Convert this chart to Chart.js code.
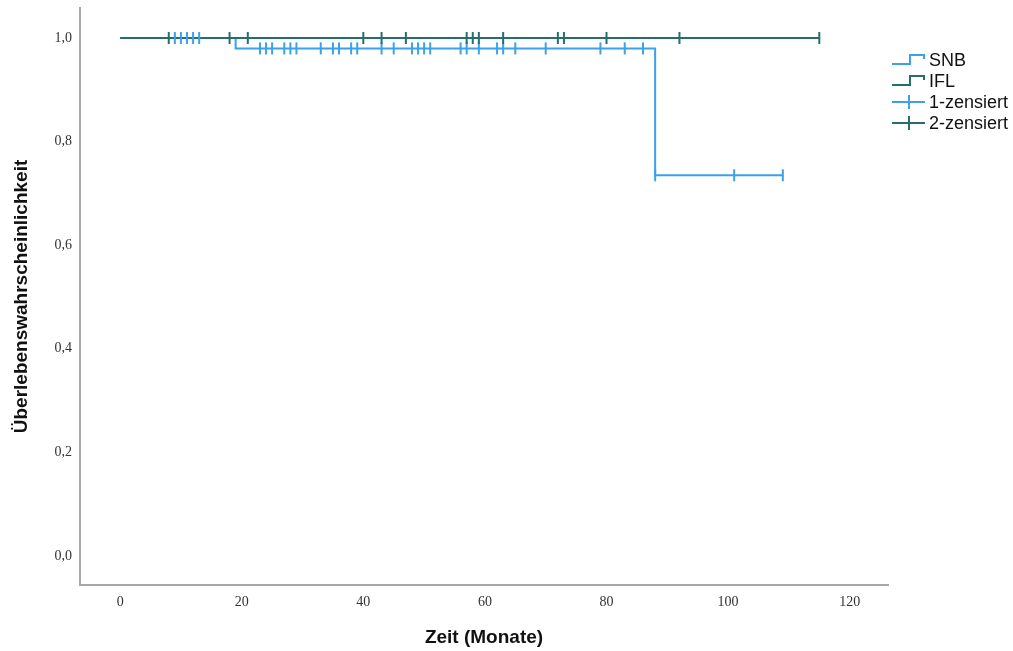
<!DOCTYPE html>
<html>
<head>
<meta charset="utf-8">
<script src="https://cdn.jsdelivr.net/npm/chart.js@4.4.0/dist/chart.umd.min.js"></script>
<style>
  html, body { margin: 0; padding: 0; background: #fff; }
  #wrap { width: 1013px; height: 651px; }
</style>
</head>
<body>
<div id="wrap"><canvas id="kmChart"></canvas></div>
<script>
// Kaplan-Meier steps (time in months, survival)
const snbTimes = [0, 19, 88, 109];
const snbSurv = [1.0, 0.98, 0.735, 0.735];
const iflTimes = [0, 115];
const iflSurv = [1.0, 1.0];

// censored observations (months)
const snbCensored = [9, 10, 11, 12, 13, 23, 24, 25, 27, 28, 29, 33, 35, 36, 38, 39, 43, 45, 48, 49, 50, 51,
    56, 57, 59, 62, 63, 65, 70, 79, 83, 86, 88, 101, 109];
const iflCensored = [8, 18, 21, 40, 43, 47, 57, 58, 59, 63, 72, 73, 80, 92, 115];

const xTicks = [0, 20, 40, 60, 80, 100, 120];
const yTicks = [0, 0.2, 0.4, 0.6, 0.8, 1.0];
const legendLabels = ['SNB', 'IFL', '1-zensiert', '2-zensiert'];

const blue = '#3ba1e8';
const green = '#246e6b';

// survival value at time t (last step at or before t)
function survAt(times, surv, t) {
    let s = surv[0];
    for (let i = 0; i < times.length; i++) {
        if (times[i] <= t) s = surv[i];
    }
    return s;
}

const toPts = (xs, ys) => xs.map((x, i) => ({ x: x, y: ys[i] }));
const censorPts = (list, times, surv) => list.map(t => ({ x: t, y: survAt(times, surv, t) }));

// draws the legend on the right side (step glyph / censor glyph)
const kmLegend = {
    id: 'kmLegend',
    afterDraw(chart) {
        const ctx = chart.ctx;
        const colors = [blue, green, blue, green];
        const x0 = 892, x1 = 925, tx = 929;
        ctx.save();
        ctx.font = '18px "Liberation Sans", Arial, sans-serif';
        ctx.textBaseline = 'middle';
        ctx.lineWidth = 2;
        legendLabels.forEach((label, i) => {
            const y = 60 + i * 21;
            ctx.strokeStyle = colors[i];
            ctx.beginPath();
            if (i < 2) {
                ctx.moveTo(x0, y + 4);
                ctx.lineTo(x0 + 18, y + 4);
                ctx.lineTo(x0 + 18, y - 5);
                ctx.lineTo(x1 - 1, y - 5);
                ctx.lineTo(x1 - 1, y - 1);
            } else {
                ctx.moveTo(x0, y);
                ctx.lineTo(x1, y);
                ctx.moveTo(x0 + 17, y - 7);
                ctx.lineTo(x0 + 17, y + 7);
            }
            ctx.stroke();
            ctx.fillStyle = '#111';
            ctx.fillText(label, tx, y + 1);
        });
        ctx.restore();
    }
};

const ctx = document.getElementById('kmChart').getContext('2d');
const kmChart = new Chart(ctx, {
    type: 'line',
    data: {
        datasets: [
            {
                label: 'SNB',
                data: toPts(snbTimes, snbSurv),
                stepped: 'before',
                borderColor: blue,
                borderWidth: 2,
                pointRadius: 0,
                fill: false,
                order: 4
            },
            {
                label: 'IFL',
                data: toPts(iflTimes, iflSurv),
                stepped: 'before',
                borderColor: green,
                borderWidth: 2,
                pointRadius: 0,
                fill: false,
                order: 3
            },
            {
                label: '1-zensiert',
                data: censorPts(snbCensored, snbTimes, snbSurv),
                showLine: false,
                pointStyle: 'line',
                rotation: 90,
                pointRadius: 6,
                borderColor: blue,
                pointBorderWidth: 2,
                order: 2
            },
            {
                label: '2-zensiert',
                data: censorPts(iflCensored, iflTimes, iflSurv),
                showLine: false,
                pointStyle: 'line',
                rotation: 90,
                pointRadius: 6,
                borderColor: green,
                pointBorderWidth: 2,
                order: 1
            }
        ]
    },
    options: {
        responsive: true,
        maintainAspectRatio: false,
        animation: false,
        layout: { padding: { top: 8, right: 125, left: 0, bottom: 0 } },
        scales: {
            x: {
                type: 'linear',
                min: -6.6,
                max: 126.3,
                afterBuildTicks: scale => { scale.ticks = xTicks.map(v => ({ value: v })); },
                afterFit: scale => {
                    scale.height = 66;
                    scale.paddingLeft = 0;
                    scale.paddingRight = 0;
                },
                grid: { display: false, drawTicks: false },
                border: { display: true, color: '#a8a8a8', width: 2 },
                ticks: {
                    padding: 9,
                    color: '#333',
                    font: { family: '"Liberation Serif", "Times New Roman", serif', size: 14 }
                },
                title: {
                    display: true,
                    text: 'Zeit (Monate)',
                    color: '#111',
                    padding: { top: 0, bottom: 2 },
                    font: { family: '"Liberation Sans", Arial, sans-serif', size: 19, weight: 'bold' }
                }
            },
            y: {
                type: 'linear',
                min: -0.056,
                max: 1.058,
                afterBuildTicks: scale => { scale.ticks = yTicks.map(v => ({ value: v })); },
                afterFit: scale => {
                    scale.width = 80;
                    scale.paddingTop = 0;
                    scale.paddingBottom = 0;
                },
                grid: { display: false, drawTicks: false },
                border: { display: true, color: '#a8a8a8', width: 2 },
                ticks: {
                    padding: 8,
                    color: '#333',
                    font: { family: '"Liberation Serif", "Times New Roman", serif', size: 14 },
                    callback: v => v.toFixed(1).replace('.', ',')
                },
                title: {
                    display: true,
                    text: 'Überlebenswahrscheinlichkeit',
                    color: '#111',
                    padding: { top: 10, bottom: 0 },
                    font: { family: '"Liberation Sans", Arial, sans-serif', size: 19, weight: 'bold' }
                }
            }
        },
        plugins: {
            legend: { display: false },
            tooltip: { enabled: false }
        }
    },
    plugins: [kmLegend]
});
</script>
</body>
</html>
